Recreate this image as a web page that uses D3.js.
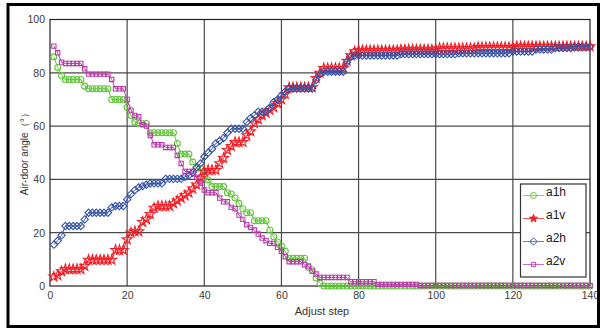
<!DOCTYPE html>
<html>
<head>
<meta charset="utf-8">
<script src="https://cdn.jsdelivr.net/npm/d3@7"></script>
<style>
  html, body { margin: 0; padding: 0; background: #fff; }
  svg { display: block; font-family: "Liberation Sans", Arial, sans-serif; }
</style>
</head>
<body>
<div id="chart"></div>
<script>
// DATA (one value per adjust step 1..140)
const steps = d3.range(1, 141);

const a1h = [
  86, 82, 79, 77.5, 77.5, 77.5, 77.5, 77.5, 75, 74,
  74, 74, 74, 74, 74, 70, 70, 70, 70, 67,
  64, 61.5, 61, 61, 61, 57.5, 57.5, 57.5, 57.5, 57.5,
  57.5, 57.5, 53.5, 49.5, 49.5, 49.5, 46.5, 44.2, 44.2, 41,
  39.8, 37.3, 37.3, 37.3, 37.3, 35, 34.5, 33, 31, 29,
  27.5, 27.5, 24.5, 24.5, 24.5, 24.5, 21, 18.5, 16.5, 15,
  13, 10.4, 10.4, 10.4, 10.4, 10.4, 7, 6, 3, 1,
  0, 0, 0, 0, 0, 0, 0, 0, 0, 0,
  0, 0, 0, 0, 0, 0, 0, 0, 0, 0,
  0, 0, 0, 0, 0, 0, 0, 0, 0, 0,
  0, 0, 0, 0, 0, 0, 0, 0, 0, 0,
  0, 0, 0, 0, 0, 0, 0, 0, 0, 0,
  0, 0, 0, 0, 0, 0, 0, 0, 0, 0,
  0, 0, 0, 0, 0, 0, 0, 0, 0, 0
];

const a1v = [
  3.5, 4, 5.5, 6.3, 6.3, 6.3, 6.3, 6.3, 7.5, 9.8,
  9.8, 9.8, 9.8, 9.8, 9.8, 9.8, 13.5, 13.5, 13.5, 17.5,
  20, 20.5, 20.5, 24, 25, 27, 29.3, 30, 30, 30,
  30, 31, 32, 33, 34, 35, 36.5, 38, 40.5, 43,
  43.5, 43.5, 43.5, 46, 48, 51, 52.5, 54, 54, 54,
  56.5, 58, 61, 62.5, 64, 65, 66, 67, 68.5, 70,
  72, 74.5, 74.5, 74.5, 74.5, 74.5, 74.5, 74.5, 78, 80,
  81.7, 81.7, 81.7, 81.7, 81.7, 81.7, 84.5, 86.5, 88, 88.4,
  88.4, 88.4, 88.4, 88.4, 88.4, 88.4, 88.4, 88.4, 88.4, 88.4,
  88.7, 88.7, 88.7, 88.7, 88.7, 88.7, 88.7, 88.7, 88.7, 88.7,
  89.2, 89.2, 89.2, 89.2, 89.2, 89.2, 89.2, 89.2, 89.2, 89.2,
  89.6, 89.6, 89.6, 89.6, 89.6, 89.6, 89.6, 89.6, 89.6, 89.6,
  89.9, 89.9, 89.9, 89.9, 89.9, 89.9, 89.9, 89.9, 89.9, 89.9,
  89.9, 89.9, 89.9, 89.9, 89.9, 89.9, 89.9, 89.9, 89.9, 89.9
];

const a2h = [
  15.5, 17, 19, 22.5, 22.5, 22.5, 22.5, 22.5, 25, 27.5,
  27.5, 27.5, 27.5, 27.5, 27.5, 29.5, 30, 30, 30, 32.5,
  34.5, 36, 37, 37.5, 38, 38.5, 38.5, 38.5, 38.5, 40.2,
  40.2, 40.2, 40.2, 40.2, 41, 41.5, 42.5, 44.5, 46, 48.5,
  50, 51.5, 53.5, 54.5, 55.5, 57.5, 59, 59, 59, 59,
  61.5, 63, 64, 65.4, 65.4, 65.4, 67, 69, 70, 71.5,
  73, 74.2, 74.2, 74.2, 74.2, 74.2, 74.2, 74.2, 77.3, 79.5,
  80.4, 80.4, 80.4, 80.4, 80.4, 80.4, 84, 86, 86.5, 86.5,
  86.5, 86.5, 86.5, 86.5, 86.5, 86.5, 86.5, 86.5, 86.5, 86.5,
  87, 87, 87, 87, 87, 87, 87, 87, 87, 87,
  87, 87, 87, 87, 87, 87.3, 87.3, 87.3, 87.3, 87.3,
  87.3, 87.3, 87.3, 87.3, 87.3, 87.3, 87.3, 87.3, 87.3, 88,
  88, 88, 88, 88, 88, 88.7, 88.7, 88.7, 88.7, 88.7,
  89.3, 89.3, 89.3, 89.3, 89.3, 89.8, 89.8, 89.8, 89.8, 89.8
];

const a2v = [
  90, 87.5, 84, 83.5, 83.5, 83.5, 83.5, 83.5, 81.5, 79.5,
  79.5, 79.5, 79.5, 79.5, 79.5, 77.5, 74, 74, 74, 70,
  66, 64, 63.5, 60.5, 60, 56.5, 53, 53, 53, 52,
  52, 52, 49, 46, 43, 43, 43, 40.8, 38.5, 36,
  35, 35, 35, 33, 31.6, 31.6, 29.5, 29, 26.6, 25,
  23, 22, 21, 19.5, 18, 17, 16, 16, 14.5, 13,
  11, 9.1, 9.1, 9.1, 9.1, 8, 7.5, 5.5, 4.5, 3.2,
  3.2, 3.2, 3.2, 3.2, 3.2, 3.2, 3.2, 1.6, 1.6, 1.6,
  1.6, 1.6, 1.6, 1.6, 0.6, 0.6, 0.6, 0.6, 0.6, 0.6,
  0.6, 0.6, 0.6, 0.6, 0.6, 0.2, 0.2, 0.2, 0.2, 0.2,
  0.2, 0.2, 0.2, 0.2, 0.2, 0.2, 0.2, 0.2, 0.2, 0.2,
  0.2, 0.2, 0.2, 0.2, 0.2, 0.2, 0.2, 0.2, 0.2, 0.2,
  0.2, 0.2, 0.2, 0.2, 0.2, 0.2, 0.2, 0.2, 0.2, 0.2,
  0.2, 0.2, 0.2, 0.2, 0.2, 0.2, 0.2, 0.2, 0.2, 0.2
];

const seriesNames = ["a1h", "a1v", "a2h", "a2v"];
const seriesValues = [a1h, a1v, a2h, a2v];
const xTicks = [0, 20, 40, 60, 80, 100, 120, 140];
const yTicks = [0, 20, 40, 60, 80, 100];

const colors = ["#62c43c", "#f21d25", "#3553a6", "#b93da9"];
const symbols = [d3.symbolCircle, d3.symbolStar, d3.symbolDiamond2, d3.symbolSquare2];
const symbolSizes = [28, 30, 34, 24];

const width = 600;
const height = 329;
const plot = { left: 50, right: 590, top: 19.5, bottom: 286 };

// SVG
const svg = d3.create("svg")
  .attr("width", width)
  .attr("height", height)
  .attr("viewBox", `0 0 ${width} ${height}`);

// SCALES
const xScale = d3.scaleLinear().domain([0, 140]).range([plot.left, plot.right]);
const yScale = d3.scaleLinear().domain([0, 100]).range([plot.bottom, plot.top]);

// GRID
const grid = svg.append("g").attr("stroke", "#4a4a4a").attr("stroke-width", 1.2);
grid.selectAll("line.v")
  .data(xTicks.slice(1, -1))
  .join("line")
  .attr("x1", (d) => xScale(d)).attr("x2", (d) => xScale(d))
  .attr("y1", plot.top).attr("y2", plot.bottom);
grid.selectAll("line.h")
  .data(yTicks.slice(1, -1))
  .join("line")
  .attr("class", "h")
  .attr("y1", (d) => yScale(d)).attr("y2", (d) => yScale(d))
  .attr("x1", plot.left).attr("x2", plot.right);

// AXES
const xAxis = d3.axisBottom(xScale).tickValues(xTicks).tickSize(0).tickPadding(6);
const yAxis = d3.axisLeft(yScale).tickValues(yTicks).tickSize(0).tickPadding(5);
svg.append("g")
  .attr("transform", `translate(0, ${plot.bottom})`)
  .call(xAxis)
  .call((g) => g.select(".domain").remove())
  .selectAll("text")
  .attr("font-size", 10.5)
  .attr("font-family", "Liberation Sans, Arial, sans-serif")
  .attr("fill", "#3a3a3a");
svg.append("g")
  .attr("transform", `translate(${plot.left}, 0)`)
  .call(yAxis)
  .call((g) => g.select(".domain").remove())
  .selectAll("text")
  .attr("font-size", 10.5)
  .attr("font-family", "Liberation Sans, Arial, sans-serif")
  .attr("fill", "#3a3a3a");

// PLOT BOX
svg.append("rect")
  .attr("x", plot.left).attr("y", plot.top)
  .attr("width", plot.right - plot.left)
  .attr("height", plot.bottom - plot.top)
  .attr("fill", "none")
  .attr("stroke", "#222")
  .attr("stroke-width", 1.2);

// AXIS TITLES
svg.append("text")
  .attr("x", xScale(70) + 2)
  .attr("y", 315)
  .attr("text-anchor", "middle")
  .attr("font-size", 11)
  .attr("fill", "#333")
  .text("Adjust step");
svg.append("text")
  .attr("transform", `translate(28, ${yScale(50) - 1}) rotate(-90)`)
  .attr("text-anchor", "middle")
  .attr("font-size", 10)
  .attr("fill", "#333")
  .text("Air-door angle\uFF08°\uFF09");

// SERIES
const line = d3.line().x((d) => xScale(d[0])).y((d) => yScale(d[1]));
const seriesGroup = svg.append("g");
seriesValues.forEach((values, i) => {
  const points = steps.map((s, j) => [s, values[j]]);
  const g = seriesGroup.append("g");
  g.append("path")
    .datum(points)
    .attr("d", line)
    .attr("fill", "none")
    .attr("stroke", colors[i])
    .attr("stroke-width", 1);
  g.selectAll("path.marker")
    .data(points)
    .join("path")
    .attr("class", "marker")
    .attr("transform", (d) => `translate(${xScale(d[0])}, ${yScale(d[1])})`)
    .attr("d", d3.symbol(symbols[i], symbolSizes[i]))
    .attr("fill", "none")
    .attr("stroke", colors[i])
    .attr("stroke-width", 1.1);
});

// LEGEND
const legend = svg.append("g");
legend.append("rect")
  .attr("x", 520.5).attr("y", 184)
  .attr("width", 65.5).attr("height", 93)
  .attr("fill", "#fff")
  .attr("stroke", "#333")
  .attr("stroke-width", 1.2);
const legendItems = legend.selectAll("g.item")
  .data(seriesNames)
  .join("g")
  .attr("class", "item")
  .attr("transform", (d, i) => `translate(0, ${195.5 + i * 23})`);
legendItems.append("line")
  .attr("x1", 523).attr("x2", 544)
  .attr("stroke", (d, i) => colors[i])
  .attr("stroke-opacity", 0.75)
  .attr("stroke-width", 1);
legendItems.append("path")
  .attr("transform", "translate(533.5, 0)")
  .attr("d", (d, i) => d3.symbol(symbols[i], i === 1 ? 20 : symbolSizes[i])())
  .attr("fill", (d, i) => (i === 1 ? colors[i] : "none"))
  .attr("stroke", (d, i) => colors[i])
  .attr("stroke-width", 1);
legendItems.append("text")
  .attr("x", 546)
  .attr("y", 0.5)
  .attr("font-size", 12)
  .attr("fill", "#1a1a1a")
  .text((d) => d);

// OUTER FRAME
svg.append("rect")
  .attr("x", 8).attr("y", 4.5)
  .attr("width", 590.5).attr("height", 322)
  .attr("fill", "none")
  .attr("stroke", "#000")
  .attr("stroke-width", 3);

document.getElementById("chart").append(svg.node());
</script>
</body>
</html>
